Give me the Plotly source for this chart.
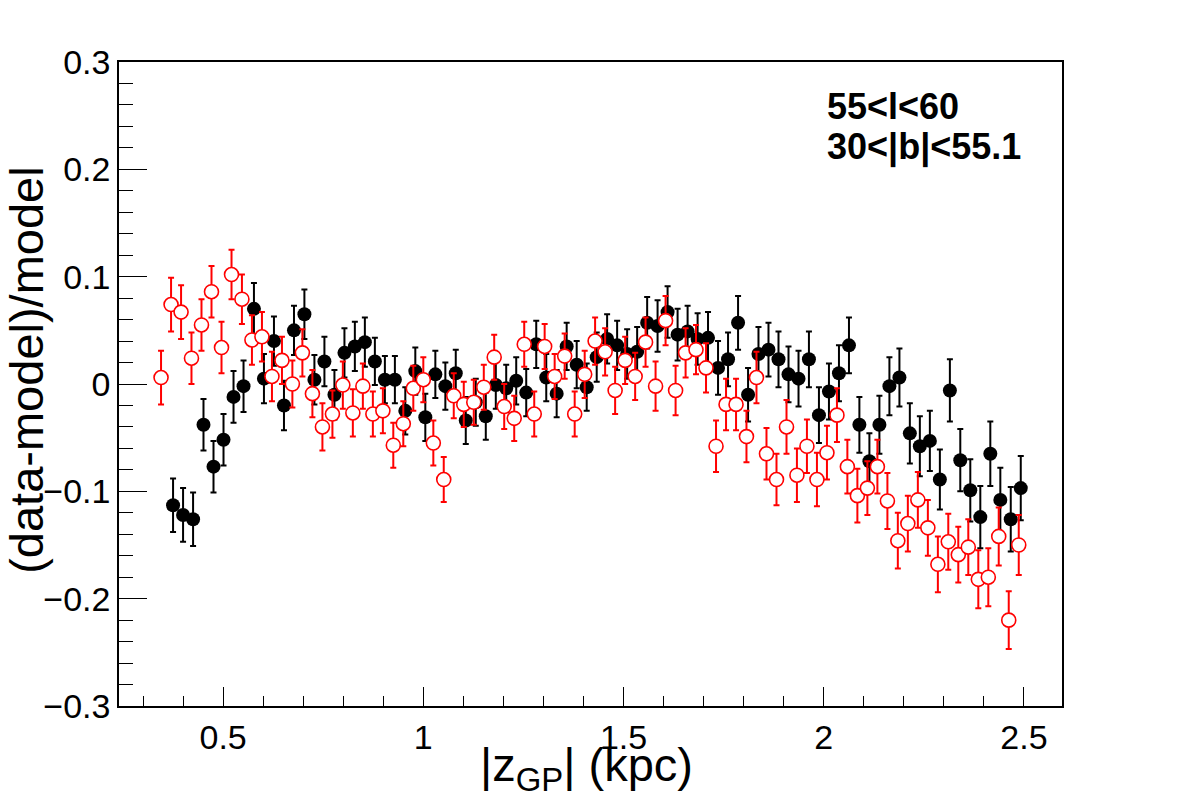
import plotly.graph_objects as go

# ---- data ----
x_black = [0.375, 0.400, 0.425, 0.451, 0.476, 0.501, 0.526, 0.551, 0.577, 0.602,
           0.627, 0.652, 0.677, 0.703, 0.728, 0.753, 0.778, 0.803, 0.829, 0.854,
           0.879, 0.904, 0.929, 0.955, 0.980, 1.005, 1.030, 1.055, 1.081, 1.106,
           1.131, 1.156, 1.181, 1.207, 1.232, 1.257, 1.282, 1.307, 1.333, 1.358,
           1.383, 1.408, 1.433, 1.459, 1.484, 1.509, 1.534, 1.559, 1.585, 1.610,
           1.635, 1.660, 1.685, 1.711, 1.736, 1.761, 1.786, 1.811, 1.837, 1.862,
           1.887, 1.912, 1.937, 1.963, 1.988, 2.013, 2.038, 2.063, 2.089, 2.114,
           2.139, 2.164, 2.189, 2.215, 2.240, 2.265, 2.290, 2.315, 2.341, 2.366,
           2.391, 2.416, 2.441, 2.467, 2.492]
y_black = [-0.113, -0.122, -0.126, -0.038, -0.077, -0.052, -0.012, -0.002, 0.070, 0.005,
           0.040, -0.020, 0.050, 0.065, 0.004, 0.021, -0.010, 0.029, 0.035, 0.039,
           0.021, 0.004, 0.004, -0.025, 0.012, -0.031, 0.009, -0.002, 0.010, -0.034,
           -0.017, -0.030, -0.001, -0.004, 0.003, -0.008, 0.037, 0.006, -0.009, 0.035,
           0.018, -0.003, 0.025, 0.042, 0.036, 0.028, 0.030, 0.057, 0.054, 0.067,
           0.046, 0.049, 0.042, 0.043, 0.015, 0.023, 0.057, -0.010, 0.028, 0.032,
           0.023, 0.009, 0.005, 0.023, -0.029, -0.007, 0.010, 0.036, -0.038, -0.072,
           -0.038, -0.002, 0.006, -0.046, -0.058, -0.053, -0.089, -0.006, -0.071, -0.099,
           -0.124, -0.065, -0.108, -0.126, -0.097]
e_black = [0.025, 0.025, 0.025, 0.024, 0.024, 0.024, 0.024, 0.024, 0.024, 0.023,
           0.023, 0.023, 0.023, 0.023, 0.023, 0.023, 0.023, 0.023, 0.023, 0.023,
           0.022, 0.022, 0.022, 0.022, 0.022, 0.022, 0.022, 0.022, 0.022, 0.022,
           0.022, 0.022, 0.022, 0.022, 0.022, 0.022, 0.022, 0.022, 0.022, 0.022,
           0.022, 0.022, 0.023, 0.023, 0.023, 0.023, 0.023, 0.024, 0.024, 0.024,
           0.024, 0.024, 0.024, 0.024, 0.025, 0.025, 0.025, 0.025, 0.025, 0.025,
           0.026, 0.026, 0.026, 0.026, 0.026, 0.026, 0.026, 0.026, 0.026, 0.026,
           0.027, 0.027, 0.027, 0.028, 0.028, 0.028, 0.028, 0.029, 0.029, 0.029,
           0.029, 0.030, 0.030, 0.030, 0.030]

x_red = [0.345, 0.370, 0.395, 0.421, 0.446, 0.471, 0.496, 0.521, 0.547, 0.572,
         0.597, 0.622, 0.647, 0.673, 0.698, 0.723, 0.748, 0.773, 0.799, 0.824,
         0.849, 0.874, 0.899, 0.925, 0.950, 0.975, 1.000, 1.025, 1.051, 1.076,
         1.101, 1.126, 1.151, 1.177, 1.202, 1.227, 1.252, 1.277, 1.303, 1.328,
         1.353, 1.378, 1.403, 1.429, 1.454, 1.479, 1.504, 1.529, 1.555, 1.580,
         1.605, 1.630, 1.655, 1.681, 1.706, 1.731, 1.756, 1.781, 1.807, 1.832,
         1.857, 1.882, 1.907, 1.933, 1.958, 1.983, 2.008, 2.033, 2.059, 2.084,
         2.109, 2.134, 2.159, 2.185, 2.210, 2.235, 2.260, 2.285, 2.311, 2.336,
         2.361, 2.386, 2.411, 2.437, 2.462, 2.487]
y_red = [0.006, 0.074, 0.067, 0.024, 0.055, 0.086, 0.034, 0.102, 0.079, 0.041,
         0.044, 0.007, 0.022, 0.000, 0.029, -0.009, -0.040, -0.028, -0.001, -0.027,
         -0.002, -0.028, -0.025, -0.057, -0.037, -0.004, 0.004, -0.055, -0.089, -0.011,
         -0.019, -0.017, -0.003, 0.025, -0.021, -0.032, 0.037, -0.028, 0.035, 0.007,
         0.026, -0.028, 0.009, 0.040, 0.030, -0.006, 0.022, 0.007, 0.039, -0.002,
         0.059, -0.006, 0.029, 0.032, 0.015, -0.058, -0.019, -0.019, -0.049, 0.006,
         -0.065, -0.089, -0.040, -0.085, -0.058, -0.089, -0.064, -0.029, -0.077, -0.104,
         -0.097, -0.077, -0.109, -0.146, -0.130, -0.108, -0.134, -0.168, -0.147, -0.159,
         -0.152, -0.182, -0.180, -0.142, -0.220, -0.150]
e_red = [0.025, 0.025, 0.025, 0.024, 0.024, 0.024, 0.024, 0.023, 0.023, 0.023,
         0.023, 0.023, 0.022, 0.022, 0.022, 0.022, 0.022, 0.022, 0.022, 0.022,
         0.021, 0.021, 0.021, 0.021, 0.021, 0.021, 0.021, 0.021, 0.021, 0.021,
         0.021, 0.021, 0.021, 0.021, 0.021, 0.021, 0.021, 0.021, 0.021, 0.021,
         0.021, 0.021, 0.022, 0.022, 0.022, 0.022, 0.022, 0.022, 0.023, 0.023,
         0.023, 0.023, 0.023, 0.023, 0.023, 0.024, 0.024, 0.024, 0.024, 0.024,
         0.024, 0.024, 0.025, 0.025, 0.025, 0.025, 0.025, 0.025, 0.025, 0.025,
         0.025, 0.025, 0.026, 0.026, 0.026, 0.026, 0.026, 0.026, 0.026, 0.026,
         0.026, 0.027, 0.027, 0.027, 0.027, 0.028]

y_ticks = [-0.3, -0.2, -0.1, 0, 0.1, 0.2, 0.3]
y_ticklabels = ["\u22120.3", "\u22120.2", "\u22120.1", "0", "0.1", "0.2", "0.3"]
x_ticks = [0.5, 1, 1.5, 2, 2.5]
x_ticklabels = ["0.5", "1", "1.5", "2", "2.5"]

FONT = "Liberation Sans, Arial, Helvetica, sans-serif"

fig = go.Figure()
fig.add_trace(go.Scatter(
    x=x_black, y=y_black, mode="markers",
    marker=dict(symbol="circle", size=14, color="black"),
    error_y=dict(type="data", array=e_black, color="black", thickness=2, width=3),
    showlegend=False))
fig.add_trace(go.Scatter(
    x=x_red, y=y_red, mode="markers",
    marker=dict(symbol="circle", size=14, color="white",
                line=dict(color="#ff0000", width=1.6)),
    error_y=dict(type="data", array=e_red, color="#ff0000", thickness=2, width=3),
    showlegend=False))

axis_common = dict(showgrid=False, zeroline=False, showline=True, linecolor="black",
                   linewidth=1.5, mirror=True, ticks="inside", tickcolor="black",
                   tickwidth=1.2, tickfont=dict(family=FONT, size=34, color="black"))

fig.update_xaxes(range=[0.24, 2.595], tickvals=x_ticks, ticktext=x_ticklabels,
                 ticklen=19,
                 minor=dict(ticks="inside", dtick=0.1, tick0=0, ticklen=10,
                            tickcolor="black", tickwidth=1.2),
                 **axis_common)
fig.update_yaxes(range=[-0.3, 0.3], tickvals=y_ticks, ticktext=y_ticklabels,
                 ticklen=28,
                 minor=dict(ticks="inside", dtick=0.02, tick0=0, ticklen=14,
                            tickcolor="black", tickwidth=1.2),
                 **axis_common)

fig.add_annotation(text="(data-model)/model", xref="paper", yref="paper",
                   x=(27 - 119) / 943, y=0.522, xanchor="center", yanchor="middle",
                   textangle=-90, showarrow=False,
                   font=dict(family=FONT, size=47, color="black"))
fig.add_annotation(text="|z<sub>GP</sub>| (kpc)", xref="paper", yref="paper",
                   x=0.496, y=(706 - 768) / 644, xanchor="center", yanchor="middle",
                   showarrow=False,
                   font=dict(family=FONT, size=47, color="black"))
fig.add_annotation(text="<b>55<l<60</b>", xref="paper", yref="paper",
                   x=(825 - 119) / 943, y=(706 - 106) / 644, xanchor="left",
                   yanchor="middle", showarrow=False,
                   font=dict(family=FONT, size=36, color="black"))
fig.add_annotation(text="<b>30<|b|<55.1</b>", xref="paper", yref="paper",
                   x=(825 - 119) / 943, y=(706 - 147) / 644, xanchor="left",
                   yanchor="middle", showarrow=False,
                   font=dict(family=FONT, size=36, color="black"))

fig.update_layout(width=1182, height=805, paper_bgcolor="white", plot_bgcolor="white",
                  margin=dict(l=119, r=120, t=62, b=99), showlegend=False)

fig.write_html("out.html")
